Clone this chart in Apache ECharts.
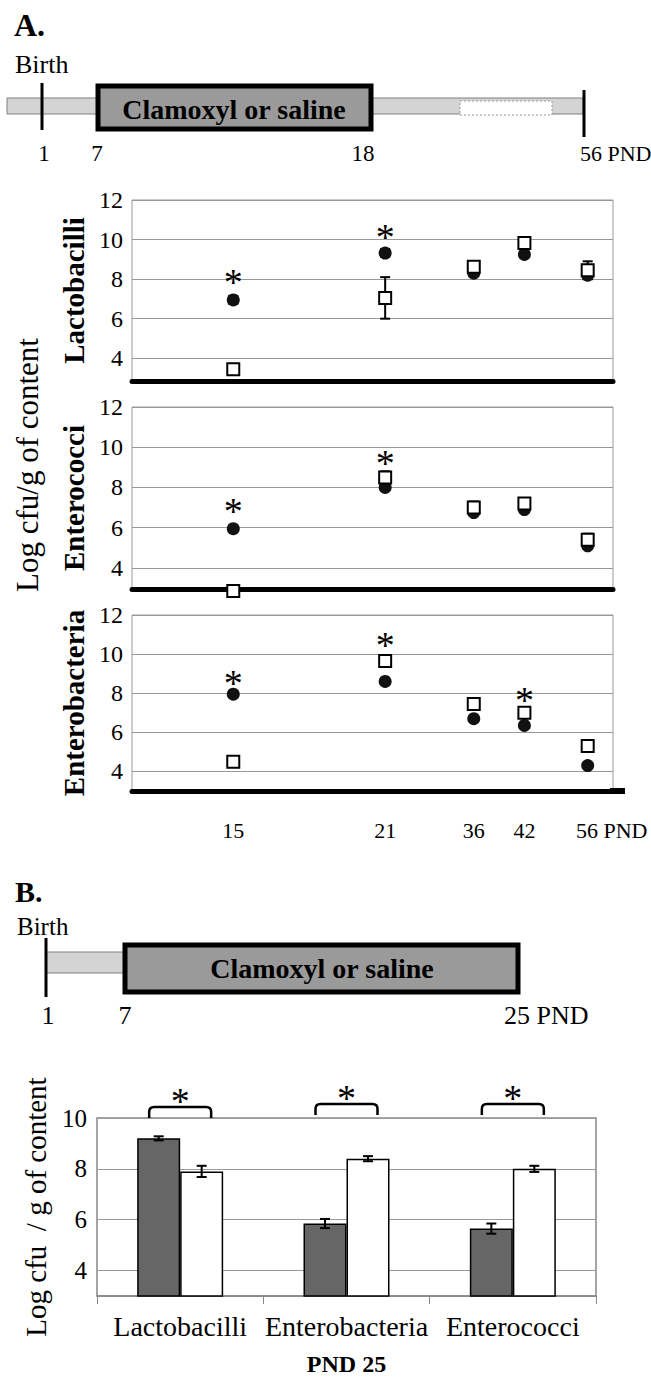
<!DOCTYPE html>
<html>
<head>
<meta charset="utf-8">
<title>Clamoxyl and gut flora</title>
<script src="https://cdn.jsdelivr.net/npm/echarts@6.0.0/dist/echarts.min.js"></script>
<style>
  html, body { margin: 0; padding: 0; background: #fff; }
  #main { width: 651px; height: 1377px; }
</style>
</head>
<body>
<div id="main"></div>
<script>
// ---- panel A: sampling days (PND) and their slot on the uneven x axis ----
var days = ['15', '21', '36', '42', '56'];
var daySlot = [8, 20, 27, 31, 36];
var slotTotal = 39;

// filled circles = saline, open squares = Clamoxyl (log cfu/g)
var lactoSaline = [6.95, 9.32, 8.3, 9.25, 8.2];
var lactoSalineErr = [0.2, 0.2, 0.15, 0.15, 0.2];
var lactoClam = [3.45, 7.05, 8.62, 9.83, 8.45];
var lactoClamErr = [0.25, 1.05, 0.15, 0.15, 0.45];
var lactoStars = [[0, 8.2], [1, 10.5]];          // [day index, height]

var coccSaline = [5.95, 8.0, 6.75, 6.9, 5.1];
var coccSalineErr = [0.15, 0.1, 0.15, 0.15, 0.15];
var coccClam = [2.85, 8.5, 7.0, 7.2, 5.4];
var coccClamErr = [0.1, 0.3, 0.3, 0.2, 0.3];
var coccStars = [[0, 7.2], [1, 9.55]];

var bactSaline = [7.95, 8.6, 6.7, 6.35, 4.3];
var bactSalineErr = [0.15, 0.1, 0.1, 0.1, 0.1];
var bactClam = [4.5, 9.65, 7.45, 7.0, 5.3];
var bactClamErr = [0.1, 0.1, 0.1, 0.1, 0.1];
var bactStars = [[0, 8.9], [1, 10.8], [3, 8.0]];

// ---- panel B: PND 25 ----
var barCats = ['Lactobacilli', 'Enterobacteria', 'Enterococci'];
var barSaline = [9.2, 5.85, 5.65];
var barSalineErr = [0.08, 0.18, 0.2];
var barClam = [7.9, 8.4, 8.0];
var barClamErr = [0.22, 0.1, 0.12];
var barBracketTop = [10.43, 10.55, 10.55];

var serif = "'Liberation Serif', 'Times New Roman', Times, serif";

var slotLabels = [];
for (var i = 0; i < slotTotal; i++) slotLabels.push('');
for (var k = 0; k < days.length; k++) slotLabels[daySlot[k]] = days[k];

var panels = [
  {name: 'Lactobacilli', min: 2.85, top: 200, height: 181,
   saline: lactoSaline, salineErr: lactoSalineErr, clam: lactoClam, clamErr: lactoClamErr, stars: lactoStars},
  {name: 'Enterococci', min: 2.95, top: 407, height: 182,
   saline: coccSaline, salineErr: coccSalineErr, clam: coccClam, clamErr: coccClamErr, stars: coccStars},
  {name: 'Enterobacteria', min: 3.0, top: 615, height: 176,
   saline: bactSaline, salineErr: bactSalineErr, clam: bactClam, clamErr: bactClamErr, stars: bactStars}
];

function renderErr(params, api) {
  var x = api.value(0), m = api.value(1), e = api.value(2), side = api.value(3) || 0;
  var hi = api.coord([x, m + e]), lo = api.coord([x, m - e]);
  var cx = hi[0] + side * 21.5;
  var w = 5;
  function seg(x1, y1, x2, y2) {
    return {type: 'line', shape: {x1: x1, y1: y1, x2: x2, y2: y2}, style: {stroke: '#000', lineWidth: 2}};
  }
  return {type: 'group', children: [
    seg(cx, hi[1], cx, lo[1]),
    seg(cx - w, hi[1], cx + w, hi[1]),
    seg(cx - w, lo[1], cx + w, lo[1])
  ]};
}

function renderStar(params, api) {
  var p = api.coord([api.value(0), api.value(1)]);
  return {type: 'text', x: p[0], y: p[1] + 7,
    style: {text: '*', fontSize: 38, fontFamily: serif, fill: '#000', align: 'center', verticalAlign: 'middle'}};
}

function renderBracket(params, api) {
  var p = api.coord([api.value(0), api.value(1)]);
  var x1 = p[0] - 31, x2 = p[0] + 31, yt = p[1], yb = p[1] + 11, r = 5;
  return {type: 'group', children: [
    {type: 'path', shape: {pathData: 'M' + x1 + ' ' + yb + ' L' + x1 + ' ' + (yt + r) +
        ' Q' + x1 + ' ' + yt + ' ' + (x1 + r) + ' ' + yt + ' L' + (x2 - r) + ' ' + yt +
        ' Q' + x2 + ' ' + yt + ' ' + x2 + ' ' + (yt + r) + ' L' + x2 + ' ' + yb},
     style: {stroke: '#000', lineWidth: 2.5, fill: null}},
    {type: 'text', x: p[0], y: yt - 13 + 7,
     style: {text: '*', fontSize: 38, fontFamily: serif, fill: '#000', align: 'center', verticalAlign: 'middle'}}
  ]};
}

var grid = [], xAxis = [], yAxis = [], series = [];

panels.forEach(function (p, i) {
  grid.push({left: 132, top: p.top, width: 481, height: p.height, show: true,
    borderColor: '#999', borderWidth: 1});
  xAxis.push({
    type: 'category', gridIndex: i, data: slotLabels, boundaryGap: false,
    axisLine: {onZero: false, lineStyle: {color: '#000', width: 5}},
    axisTick: {show: false},
    splitLine: {show: false},
    axisLabel: {
      show: i === 2, interval: 0, margin: 28, fontSize: 22, fontFamily: serif, color: '#000',
      formatter: function (v) { return v === '56' ? '{pad| }56 PND' : v; },
      rich: {pad: {width: 48}}
    }
  });
  yAxis.push({
    type: 'value', gridIndex: i, min: p.min, max: 12, splitNumber: 5,
    name: p.name, nameLocation: 'middle', nameRotate: 90, nameGap: 42,
    nameTextStyle: {fontFamily: serif, fontSize: 29, fontWeight: 'bold', color: '#000'},
    axisLine: {show: false}, axisTick: {show: false},
    axisLabel: {fontFamily: serif, fontSize: 24, color: '#000', margin: 9, showMinLabel: false},
    splitLine: {lineStyle: {color: '#999', width: 1}}
  });

  var errData = [];
  var salineData = [], clamData = [];
  for (var k = 0; k < days.length; k++) {
    errData.push([daySlot[k], p.saline[k], p.salineErr[k], 0]);
    errData.push([daySlot[k], p.clam[k], p.clamErr[k], 0]);
    salineData.push([daySlot[k], p.saline[k]]);
    clamData.push([daySlot[k], p.clam[k]]);
  }
  series.push({
    type: 'custom', name: p.name + ' error', xAxisIndex: i, yAxisIndex: i,
    renderItem: renderErr, data: errData, encode: {x: 0, y: 1}, clip: false, z: 2, silent: true
  });
  series.push({
    type: 'scatter', name: p.name + ' saline', xAxisIndex: i, yAxisIndex: i,
    data: salineData, symbol: 'circle', symbolSize: 13, clip: false, z: 3,
    itemStyle: {color: '#111', opacity: 1}
  });
  series.push({
    type: 'scatter', name: p.name + ' Clamoxyl', xAxisIndex: i, yAxisIndex: i,
    data: clamData, symbol: 'rect', symbolSize: 12, clip: false, z: 4,
    itemStyle: {color: '#fff', borderColor: '#000', borderWidth: 2, opacity: 1}
  });
  series.push({
    type: 'custom', name: p.name + ' significance', xAxisIndex: i, yAxisIndex: i,
    renderItem: renderStar, encode: {x: 0, y: 1}, clip: false, z: 5, silent: true,
    data: p.stars.map(function (s) { return [daySlot[s[0]], s[1]]; })
  });
});

// panel B bar chart
grid.push({left: 97, top: 1118, width: 499, height: 179, show: true, borderColor: '#888', borderWidth: 1.5});
xAxis.push({
  type: 'category', gridIndex: 3, data: barCats,
  axisLine: {lineStyle: {color: '#888', width: 1.5}},
  axisTick: {show: true, length: 8, lineStyle: {color: '#888'}},
  axisLabel: {fontFamily: serif, fontSize: 28, color: '#000', margin: 16, interval: 0, hideOverlap: false},
  name: 'PND 25', nameLocation: 'middle', nameGap: 56,
  nameTextStyle: {fontFamily: serif, fontSize: 24, fontWeight: 'bold', color: '#000'}
});
yAxis.push({
  type: 'value', gridIndex: 3, min: 3, max: 10, splitNumber: 3,
  name: 'Log cfu  / g of content', nameLocation: 'middle', nameRotate: 90, nameGap: 47,
  nameTextStyle: {fontFamily: serif, fontSize: 29, color: '#000'},
  axisLine: {show: false}, axisTick: {show: false},
  axisLabel: {fontFamily: serif, fontSize: 25, color: '#000', margin: 10, showMinLabel: false},
  splitLine: {lineStyle: {color: '#999', width: 1}}
});
series.push({
  type: 'bar', name: 'Saline', xAxisIndex: 3, yAxisIndex: 3, data: barSaline,
  barWidth: 43, barGap: '0%', itemStyle: {color: '#666', borderColor: '#000', borderWidth: 1.5}
});
series.push({
  type: 'bar', name: 'Clamoxyl', xAxisIndex: 3, yAxisIndex: 3, data: barClam,
  barWidth: 43, barGap: '0%', itemStyle: {color: '#fff', borderColor: '#000', borderWidth: 1.5}
});
var barErrData = [];
for (var b = 0; b < barCats.length; b++) {
  barErrData.push([b, barSaline[b], barSalineErr[b], -1]);
  barErrData.push([b, barClam[b], barClamErr[b], 1]);
}
series.push({
  type: 'custom', name: 'bar error', xAxisIndex: 3, yAxisIndex: 3,
  renderItem: renderErr, data: barErrData, encode: {x: 0, y: 1}, z: 5, silent: true
});
series.push({
  type: 'custom', name: 'bar significance', xAxisIndex: 3, yAxisIndex: 3,
  renderItem: renderBracket, encode: {x: 0, y: 1}, clip: false, z: 5, silent: true,
  data: barBracketTop.map(function (v, j) { return [j, v]; })
});

// treatment timelines (schematic, not to scale)
function txt(s, x, y, size, opt) {
  opt = opt || {};
  return {type: 'text', x: x, y: y, rotation: opt.rotation || 0, silent: true,
    style: {text: s, fontSize: size, fontFamily: serif, fontWeight: opt.bold ? 'bold' : 'normal',
      fill: '#000', align: opt.align || 'left', verticalAlign: 'middle'}};
}
function rect(x, y, w, h, style) {
  return {type: 'rect', silent: true, shape: {x: x, y: y, width: w, height: h}, style: style};
}
function hline(x1, x2, y, w) {
  return {type: 'line', silent: true, shape: {x1: x1, y1: y, x2: x2, y2: y}, style: {stroke: '#000', lineWidth: w}};
}
function vline(x, y1, y2) {
  return {type: 'line', silent: true, shape: {x1: x, y1: y1, x2: x, y2: y2}, style: {stroke: '#000', lineWidth: 3}};
}

var graphic = [
  txt('A.', 14, 25, 32, {bold: true}),
  txt('Birth', 15, 64, 26),
  rect(7, 98, 576, 16, {fill: '#d4d4d4', stroke: '#808080', lineWidth: 1}),
  rect(460, 101, 92, 14, {fill: '#fff', stroke: '#999', lineWidth: 1, lineDash: [2, 2]}),
  rect(98, 86, 273, 43, {fill: '#9a9a9a', stroke: '#000', lineWidth: 5}),
  txt('Clamoxyl or saline', 234, 109, 28, {bold: true, align: 'center'}),
  vline(42, 83, 130),
  vline(584, 90, 137),
  txt('1', 44, 153, 23, {align: 'center'}),
  txt('7', 97, 153, 23, {align: 'center'}),
  txt('18', 363, 153, 23, {align: 'center'}),
  txt('56 PND', 580, 153, 22),
  txt('Log cfu/g of content', 27, 465, 31, {align: 'center', rotation: Math.PI / 2}),
  hline(610, 625, 791, 6),

  txt('B.', 15, 891, 30, {bold: true}),
  txt('Birth', 17, 926, 25),
  rect(46, 952, 79, 21, {fill: '#d4d4d4', stroke: '#808080', lineWidth: 1}),
  rect(125, 945, 393, 47, {fill: '#9a9a9a', stroke: '#000', lineWidth: 5}),
  txt('Clamoxyl or saline', 322, 968, 28, {bold: true, align: 'center'}),
  vline(46, 938, 997),
  txt('1', 48, 1015, 26, {align: 'center'}),
  txt('7', 125, 1015, 26, {align: 'center'}),
  txt('25 PND', 504, 1015, 26)
];

var chart = echarts.init(document.getElementById('main'), null, {renderer: 'svg'});
chart.setOption({
  animation: false,
  backgroundColor: '#fff',
  grid: grid,
  xAxis: xAxis,
  yAxis: yAxis,
  series: series,
  graphic: graphic
});
</script>
</body>
</html>
